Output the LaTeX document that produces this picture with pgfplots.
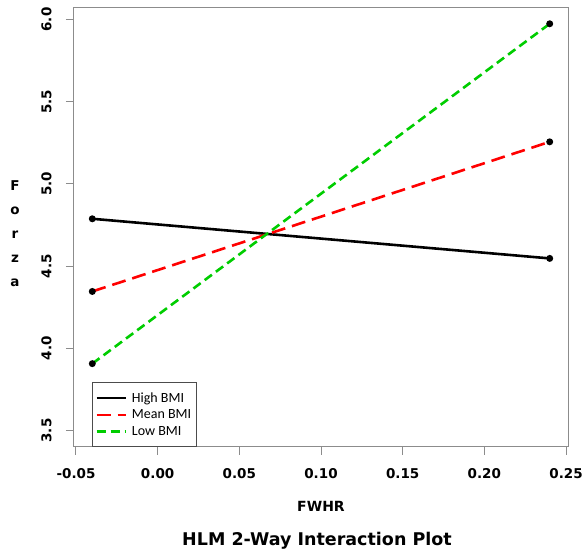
\documentclass[border=0pt]{standalone}
\usepackage{pgfplots}
\pgfplotsset{compat=1.18}
\usepackage{fontspec}
\setmainfont{DejaVu Sans}
\newfontfamily\legfont{Carlito}
\definecolor{axgray}{HTML}{8C8C8C}
\definecolor{rred}{HTML}{FF0000}
\definecolor{rgreen}{HTML}{00CD00}
\begin{document}
\begin{tikzpicture}
\path[use as bounding box] (-74pt,-106pt) rectangle (512pt,447pt);
\begin{axis}[
  at={(0pt,0pt)}, anchor=south west,
  scale only axis, width=494pt, height=439pt,
  clip mode=individual,
  xmin=-0.0512, xmax=0.2512, ymin=3.40, ymax=6.07,
  axis line style={axgray, line width=1pt},
  xtick={-0.05,0,0.05,0.10,0.15,0.20,0.25},
  xticklabels={-0.05,0.00,0.05,0.10,0.15,0.20,0.25},
  ytick={3.5,4.0,4.5,5.0,5.5,6.0},
  yticklabels={3.5,4.0,4.5,5.0,5.5,6.0},
  /pgf/number format/assume math mode=true,
  tick align=outside, major tick length=8pt,
  tick style={axgray, line width=1pt},
  xtick pos=bottom, ytick pos=left,
  tick label style={font=\bfseries\fontsize{13.5}{16}\selectfont, text=black},
  xticklabel shift=10pt,
  yticklabel shift=11pt,
  yticklabel style={rotate=90, anchor=south},
  legend style={at={(axis description cs:0.0364,0)}, anchor=south west,
    draw=black!70, line width=0.7pt, font=\legfont\fontsize{14}{16}\selectfont,
    inner xsep=3pt, inner ysep=8pt, row sep=2pt,
    /tikz/every odd column/.append style={column sep=3pt}},
  legend cell align=left,
  legend image code/.code={\draw[#1] (8pt,0pt) -- (37pt,0pt);},
  every axis plot/.append style={line width=2.6pt, mark=*, mark size=2.1pt, mark options={solid, fill=black, draw=black}},
]
\addplot[black] coordinates {(-0.04,4.788) (0.24,4.547)};
\addlegendentry{High BMI}
\addplot[rred, dash pattern=on 14pt off 7pt] coordinates {(-0.04,4.346) (0.24,5.256)};
\addlegendentry{Mean BMI}
\addplot[rgreen, dash pattern=on 9pt off 5pt] coordinates {(-0.04,3.907) (0.24,5.974)};
\addlegendentry{Low BMI}
\node[font=\bfseries\fontsize{13.5}{24}\selectfont, align=center] at ([xshift=-59pt]axis description cs:0,0.485) {F\\o\\r\\z\\a};
\node[font=\bfseries\fontsize{14}{16}\selectfont] at ([yshift=-59pt]axis description cs:0.5,0) {FWHR};
\node[font=\bfseries\fontsize{17.5}{20}\selectfont] at ([xshift=-4pt,yshift=-94pt]axis description cs:0.5,0) {HLM 2-Way Interaction Plot};
\end{axis}
\end{tikzpicture}
\end{document}
